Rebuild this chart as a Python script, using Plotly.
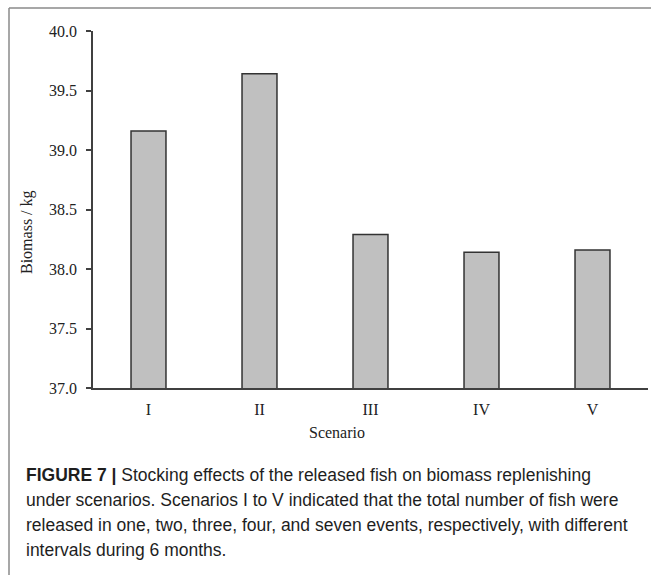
import plotly.graph_objects as go

# Scenario biomass results
scenarios = ["I", "II", "III", "IV", "V"]
biomass = [39.16, 39.64, 38.29, 38.14, 38.16]

y_ticks = [37.0, 37.5, 38.0, 38.5, 39.0, 39.5, 40.0]

caption_lines = [
    "<b>FIGURE 7 |</b> Stocking effects of the released fish on biomass replenishing",
    "under scenarios. Scenarios I to V indicated that the total number of fish were",
    "released in one, two, three, four, and seven events, respectively, with different",
    "intervals during 6 months.",
]

W, H = 651, 575
L, R, T, B = 93, 3, 31, 187
PW, PH = W - L - R, H - T - B


def px(x):
    return (x - L) / PW


def py(y):
    return (H - B - y) / PH


serif = "Liberation Serif, Times New Roman, serif"
sans = "Liberation Sans, Arial, sans-serif"

fig = go.Figure(
    go.Bar(
        x=scenarios,
        y=biomass,
        marker=dict(color="#c0c0c0", line=dict(color="#333333", width=1.5)),
    )
)

fig.update_layout(
    width=W,
    height=H,
    margin=dict(l=L, r=R, t=T, b=B),
    paper_bgcolor="white",
    plot_bgcolor="white",
    bargap=0.685,
    showlegend=False,
    font=dict(family=serif, size=16, color="#222222"),
)

fig.update_xaxes(
    showline=True,
    linecolor="#404040",
    linewidth=1.5,
    ticks="",
    showgrid=False,
    tickfont=dict(family=serif, size=16, color="#222222"),
    ticklabelstandoff=6,
)
fig.update_yaxes(
    range=[37, 40],
    tickvals=y_ticks,
    tickformat=".1f",
    showline=True,
    linecolor="#404040",
    linewidth=1.5,
    ticks="outside",
    ticklen=5,
    tickcolor="#404040",
    tickwidth=1.5,
    showgrid=False,
    zeroline=False,
    tickfont=dict(family=serif, size=16, color="#222222"),
    ticklabelstandoff=6,
)

annotations = [
    dict(text="Biomass / kg", x=px(27), y=py(232), xref="paper", yref="paper",
         textangle=-90, showarrow=False, xanchor="center", yanchor="middle",
         font=dict(family=serif, size=16, color="#222222")),
    dict(text="Scenario", x=px(337), y=py(432), xref="paper", yref="paper",
         showarrow=False, xanchor="center", yanchor="middle",
         font=dict(family=serif, size=16, color="#222222")),
]
for i, line in enumerate(caption_lines):
    annotations.append(
        dict(text=line, x=px(24), y=py(475 + 25 * i), xref="paper", yref="paper",
             showarrow=False, xanchor="left", yanchor="middle", align="left",
             font=dict(family=sans, size=17.5, color="#1e1e1e"))
    )
fig.update_layout(annotations=annotations)

# Outer frame: top and left rules
fig.add_shape(type="line", xref="paper", yref="paper",
              x0=px(9), x1=px(W), y0=py(8), y1=py(8),
              line=dict(color="#8a8a8a", width=1.5))
fig.add_shape(type="line", xref="paper", yref="paper",
              x0=px(9), x1=px(9), y0=py(8), y1=py(H),
              line=dict(color="#8a8a8a", width=1.5))

fig.write_html("out.html")
